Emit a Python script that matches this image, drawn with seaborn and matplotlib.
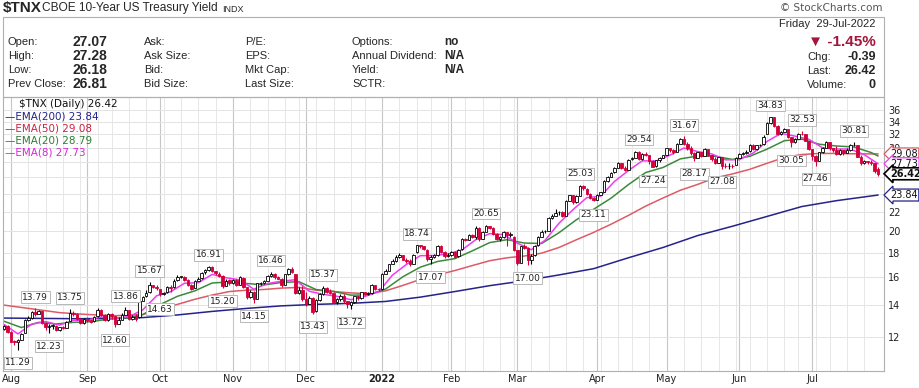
import numpy as np
import pandas as pd
import seaborn as sns
import matplotlib.pyplot as plt
from matplotlib.patches import Rectangle
from matplotlib.ticker import FixedLocator, FixedFormatter, NullLocator

# trading calendar 29-Jul-2021 .. 29-Jul-2022
holidays = ['2021-09-06', '2021-11-25', '2021-12-24', '2022-01-17', '2022-02-21',
            '2022-04-15', '2022-05-30', '2022-06-20', '2022-07-04']
dates = pd.bdate_range('2021-07-29', '2022-07-29', freq='C', holidays=holidays)

# daily OHLC of $TNX
opens = [12.50, 12.66, 12.29, 11.74, 11.72, 11.85, 12.25, 13.00, 13.18, 13.55,
         13.40, 13.60, 12.85, 12.60, 12.66, 12.65, 12.44, 12.60, 12.55, 12.95,
         13.50, 13.40, 13.10, 12.85, 13.06, 13.00, 12.95, 13.25, 13.70, 13.36,
         13.00, 13.40, 13.25, 12.80, 13.05, 13.35, 13.65, 13.10, 13.25, 13.20,
         14.30, 14.60, 14.90, 15.40, 15.30, 15.10, 14.75, 14.90, 15.30, 15.25,
         15.78, 16.05, 16.05, 15.80, 15.45, 15.20, 15.75, 15.95, 16.40, 16.60,
         16.85, 16.50, 16.30, 16.15, 15.36, 15.80, 15.55, 15.80, 15.45, 15.95,
         15.25, 14.55, 14.95, 14.45, 15.55, 15.55, 15.75, 16.10, 16.30, 16.00,
         15.92, 15.45, 16.25, 16.70, 16.30, 14.85, 15.05, 14.45, 14.10, 14.50,
         13.60, 14.35, 14.75, 15.20, 14.92, 14.85, 14.22, 14.40, 14.60, 14.25,
         14.00, 14.20, 14.60, 14.50, 14.90, 14.80, 14.85, 15.40, 15.12, 15.10,
         16.30, 16.55, 17.10, 17.30, 17.70, 17.80, 17.45, 17.35, 17.10, 18.10,
         18.70, 18.60, 18.30, 17.50, 17.70, 17.80, 18.60, 18.10, 17.75, 17.85,
         18.10, 17.75, 18.35, 19.25, 19.20, 19.65, 19.50, 20.35, 19.30, 19.95,
         20.50, 20.35, 19.75, 19.30, 19.45, 19.90, 19.65, 19.50, 18.25, 17.20,
         18.60, 18.45, 17.40, 17.80, 18.70, 19.50, 20.00, 20.05, 21.35, 21.55,
         21.95, 21.95, 21.55, 23.20, 23.80, 23.00, 23.75, 24.90, 24.60, 24.00,
         23.50, 23.30, 23.90, 24.25, 25.50, 26.00, 26.60, 27.20, 27.85, 27.20,
         26.95, 28.40, 28.55, 29.40, 28.40, 29.10, 28.90, 28.10, 27.40, 28.20,
         28.55, 28.95, 29.90, 29.65, 29.35, 30.55, 31.25, 30.50, 29.90, 29.15,
         28.50, 29.30, 28.85, 29.80, 28.90, 28.40, 27.90, 28.60, 27.50, 27.45,
         27.50, 27.60, 28.50, 29.10, 29.20, 29.45, 30.40, 29.80, 30.30, 30.45,
         32.00, 33.70, 34.70, 33.30, 32.10, 32.40, 32.80, 31.50, 30.80, 31.30,
         32.10, 32.00, 30.95, 29.75, 28.80, 28.10, 29.30, 30.00, 30.80, 29.90,
         29.60, 29.10, 29.60, 29.25, 29.60, 30.30, 30.35, 28.70, 27.80, 28.10,
         28.00, 27.80, 27.07]
highs = [12.72, 12.70, 12.36, 11.84, 11.86, 12.22, 13.06, 13.26, 13.60, 13.79,
         13.70, 13.62, 12.90, 12.75, 12.80, 12.70, 12.62, 12.68, 12.95, 13.75,
         13.60, 13.50, 13.15, 13.15, 13.20, 13.05, 13.30, 13.78, 13.72, 13.40,
         13.50, 13.50, 13.30, 13.20, 13.45, 13.86, 13.70, 13.35, 13.40, 14.35,
         14.65, 15.05, 15.67, 15.45, 15.40, 15.15, 14.95, 15.35, 15.40, 15.85,
         16.20, 16.15, 16.10, 15.85, 15.50, 15.80, 16.00, 16.45, 16.70, 16.91,
         16.88, 16.55, 16.40, 16.18, 15.90, 15.88, 15.90, 15.85, 16.10, 16.00,
         15.30, 15.05, 15.00, 15.60, 15.65, 15.80, 16.20, 16.46, 16.35, 16.10,
         15.95, 16.30, 16.75, 16.80, 16.30, 15.30, 15.35, 14.90, 14.60, 14.55,
         14.40, 14.85, 15.37, 15.25, 15.10, 14.90, 14.50, 14.80, 14.80, 14.30,
         14.30, 14.65, 14.70, 14.95, 14.95, 14.90, 15.50, 15.45, 15.20, 16.35,
         16.70, 17.10, 17.50, 17.80, 18.05, 17.85, 17.60, 17.50, 17.90, 18.74,
         18.72, 18.65, 18.35, 17.80, 17.90, 18.75, 18.70, 18.20, 18.05, 18.20,
         18.15, 18.40, 19.35, 19.35, 19.70, 19.70, 20.50, 20.45, 20.00, 20.65,
         20.55, 20.40, 19.80, 19.60, 20.00, 19.95, 19.90, 19.55, 18.30, 18.65,
         18.85, 18.50, 17.90, 18.75, 19.60, 20.10, 20.15, 21.45, 21.75, 22.30,
         22.10, 22.05, 23.30, 23.90, 23.85, 23.80, 25.03, 25.00, 24.70, 24.10,
         23.60, 24.00, 24.25, 25.60, 26.10, 26.70, 27.25, 27.95, 27.90, 27.40,
         28.35, 28.70, 29.50, 29.54, 29.20, 29.30, 28.95, 28.20, 28.30, 28.60,
         29.00, 30.00, 30.00, 29.85, 30.60, 31.40, 31.67, 30.80, 30.20, 29.30,
         29.40, 29.40, 29.90, 29.85, 28.95, 28.60, 28.70, 28.65, 27.80, 27.90,
         27.65, 28.60, 29.20, 29.30, 29.60, 30.50, 30.50, 30.40, 30.50, 31.80,
         33.90, 34.83, 34.75, 33.50, 32.50, 32.90, 32.85, 31.55, 31.40, 32.20,
         32.53, 32.10, 31.00, 29.80, 28.90, 29.40, 30.10, 31.00, 30.85, 30.00,
         30.20, 29.80, 29.70, 30.00, 30.50, 30.81, 30.40, 28.90, 28.30, 28.15,
         28.30, 27.90, 27.28]
lows = [12.42, 12.22, 11.70, 11.52, 11.29, 11.80, 12.22, 12.96, 13.12, 13.30,
        13.38, 12.78, 12.40, 12.23, 12.50, 12.35, 12.38, 12.45, 12.52, 12.95,
        13.30, 13.00, 12.78, 12.80, 12.92, 12.82, 12.90, 13.22, 13.30, 12.95,
        12.98, 13.10, 12.60, 12.75, 13.00, 13.33, 13.05, 13.05, 12.95, 13.18,
        14.25, 14.58, 14.88, 15.18, 15.05, 14.63, 14.70, 14.88, 14.95, 15.22,
        15.75, 15.95, 15.70, 15.35, 15.05, 15.18, 15.70, 15.90, 16.30, 16.55,
        16.40, 16.20, 16.05, 15.20, 15.34, 15.40, 15.50, 15.35, 15.40, 15.20,
        14.40, 14.50, 14.15, 14.42, 15.45, 15.50, 15.72, 16.05, 15.90, 15.85,
        15.30, 15.42, 16.20, 16.35, 14.75, 14.80, 14.30, 13.95, 14.05, 13.43,
        13.55, 14.30, 14.72, 14.85, 14.75, 14.15, 14.10, 14.25, 14.15, 13.80,
        13.72, 14.15, 14.35, 14.45, 14.70, 14.70, 14.80, 15.05, 14.98, 15.08,
        16.25, 16.50, 17.05, 17.25, 17.55, 17.40, 17.20, 16.95, 17.05, 18.05,
        18.45, 18.30, 17.30, 17.07, 17.55, 17.75, 18.00, 17.60, 17.70, 17.75,
        17.60, 17.70, 18.30, 19.10, 19.15, 19.35, 19.30, 19.10, 19.25, 19.90,
        20.20, 19.65, 19.20, 19.05, 19.40, 18.60, 19.50, 18.20, 17.02, 17.18,
        18.35, 17.00, 17.10, 17.75, 18.65, 19.45, 19.80, 20.00, 21.20, 21.50,
        21.60, 21.40, 21.50, 23.15, 22.85, 22.95, 23.70, 24.40, 23.80, 23.40,
        23.11, 23.25, 23.85, 24.20, 25.40, 25.95, 26.55, 27.15, 27.00, 26.80,
        26.90, 28.30, 28.50, 28.30, 28.30, 28.80, 27.70, 27.24, 27.35, 28.00,
        28.45, 28.90, 29.40, 29.10, 29.30, 30.50, 30.40, 29.70, 29.00, 28.17,
        28.45, 28.70, 28.80, 28.80, 28.10, 27.70, 27.85, 27.08, 27.20, 27.10,
        27.20, 27.55, 28.45, 28.90, 29.10, 29.40, 29.60, 29.70, 30.20, 30.40,
        31.95, 33.60, 33.10, 31.80, 31.90, 32.30, 31.40, 30.05, 30.70, 31.25,
        31.80, 30.90, 29.60, 28.20, 27.46, 28.05, 29.25, 29.90, 29.70, 29.40,
        28.90, 29.00, 29.00, 29.20, 29.55, 30.20, 28.60, 27.60, 27.70, 27.70,
        27.60, 26.50, 26.18]
closes = [12.66, 12.29, 11.74, 11.72, 11.82, 12.18, 13.00, 13.18, 13.55, 13.40,
          13.62, 12.85, 12.60, 12.66, 12.70, 12.44, 12.58, 12.55, 12.90, 13.50,
          13.40, 13.12, 12.84, 13.06, 13.00, 12.90, 13.22, 13.70, 13.36, 13.00,
          13.42, 13.25, 12.80, 13.05, 13.32, 13.70, 13.10, 13.20, 13.06, 14.28,
          14.55, 14.85, 15.40, 15.30, 15.18, 14.75, 14.85, 15.30, 15.22, 15.75,
          16.05, 16.08, 15.80, 15.45, 15.15, 15.72, 15.92, 16.38, 16.60, 16.85,
          16.52, 16.32, 16.15, 15.36, 15.76, 15.55, 15.80, 15.45, 16.00, 15.25,
          14.55, 14.95, 14.40, 15.55, 15.55, 15.70, 16.10, 16.30, 16.00, 15.92,
          15.40, 16.25, 16.68, 16.42, 14.85, 15.05, 14.45, 14.10, 14.50, 13.55,
          14.32, 14.75, 15.20, 14.92, 14.85, 14.22, 14.40, 14.60, 14.25, 14.05,
          14.20, 14.60, 14.50, 14.90, 14.80, 14.82, 15.40, 15.12, 15.10, 16.30,
          16.55, 17.05, 17.30, 17.70, 17.80, 17.45, 17.35, 17.05, 17.85, 18.70,
          18.60, 18.35, 17.50, 17.70, 17.80, 18.65, 18.10, 17.75, 17.85, 18.10,
          17.70, 18.30, 19.25, 19.20, 19.65, 19.45, 20.30, 19.25, 19.90, 20.50,
          20.35, 19.75, 19.30, 19.45, 19.95, 19.65, 19.70, 18.30, 17.20, 18.60,
          18.45, 17.45, 17.75, 18.65, 19.50, 19.95, 20.00, 21.35, 21.50, 21.90,
          21.95, 21.50, 23.20, 23.80, 23.00, 23.70, 24.90, 24.65, 24.00, 23.50,
          23.25, 23.90, 24.20, 25.50, 26.00, 26.55, 27.15, 27.85, 27.20, 26.95,
          28.30, 28.55, 29.40, 28.40, 29.10, 29.00, 28.10, 27.35, 28.20, 28.50,
          28.90, 29.90, 29.65, 29.30, 30.50, 31.25, 30.50, 29.90, 29.15, 28.45,
          29.30, 28.80, 29.80, 28.90, 28.40, 27.85, 28.60, 27.50, 27.45, 27.50,
          27.40, 28.50, 29.10, 29.20, 29.40, 30.40, 29.75, 30.30, 30.40, 31.60,
          33.70, 34.70, 33.30, 32.00, 32.30, 32.80, 31.50, 30.80, 31.30, 32.10,
          32.00, 30.95, 29.75, 28.85, 28.10, 29.30, 30.00, 30.85, 29.90, 29.60,
          29.10, 29.60, 29.20, 29.60, 30.30, 30.35, 28.70, 27.80, 28.10, 28.00,
          27.80, 26.81, 26.42]

# moving averages (bar index, value)
ema8_idx = list(range(0, 253, 4))
ema8 = [12.75, 12.18, 12.77, 12.93, 12.71, 13.01, 13.01, 13.22, 13.14, 13.24,
        13.68, 14.65, 14.93, 15.56, 15.60, 16.24, 15.98, 15.82, 15.12, 15.54,
        15.72, 15.83, 14.97, 14.75, 14.61, 14.37, 14.60, 14.93, 16.19, 17.04,
        17.78, 17.79, 17.93, 18.28, 19.21, 19.78, 19.69, 18.89, 18.30, 19.16,
        20.80, 22.20, 23.54, 23.71, 25.46, 26.83, 28.13, 28.10, 28.91, 29.92,
        29.42, 29.09, 28.26, 28.29, 29.22, 30.90, 32.12, 31.70, 31.22, 29.95,
        29.79, 29.77, 28.98, 27.73]
ema20_idx = list(range(0, 251, 5)) + [252]
ema20 = [12.95, 12.56, 12.88, 12.78, 12.88, 12.92, 13.08, 13.15, 13.37, 14.04,
         14.61, 15.00, 15.58, 15.66, 15.54, 15.44, 15.62, 15.68, 15.09, 14.96,
         14.69, 14.71, 15.13, 16.06, 16.82, 17.29, 17.53, 18.20, 18.94, 19.21,
         18.90, 18.86, 19.87, 21.15, 22.26, 23.48, 25.07, 26.58, 27.24, 28.40,
         28.79, 28.75, 28.32, 28.75, 29.77, 31.01, 31.24, 30.48, 30.22, 30.08,
         29.28, 28.79]
ema50_idx = [0, 8, 16, 24, 32, 40, 45, 50, 55, 60, 65, 70, 75, 80, 85, 90, 95, 100,
             105, 110, 115, 120, 125, 130, 135, 140, 145, 150, 155, 160, 165, 170,
             175, 180, 185, 190, 195, 200, 205, 210, 215, 220, 225, 230, 235, 240,
             245, 252]
ema50 = [14.00, 13.75, 13.50, 13.38, 13.30, 13.38, 13.75, 14.05, 14.40, 14.70,
         14.95, 15.05, 15.10, 15.20, 15.25, 15.05, 14.95, 14.85, 14.80, 15.00,
         15.40, 15.85, 16.20, 16.55, 16.95, 17.35, 17.60, 17.75, 18.00, 18.50,
         19.20, 19.90, 20.70, 21.60, 22.60, 23.50, 24.40, 25.10, 25.90, 26.40,
         27.00, 27.80, 28.60, 29.00, 29.15, 29.15, 29.10, 29.08]
ema200_idx = [0, 10, 20, 30, 40, 50, 60, 70, 80, 90, 100, 110, 120, 130, 140, 150,
              160, 170, 180, 190, 200, 210, 220, 230, 240, 252]
ema200 = [13.15, 13.13, 13.11, 13.12, 13.18, 13.35, 13.58, 13.78, 13.95, 14.05,
          14.12, 14.25, 14.55, 14.95, 15.38, 15.75, 16.20, 16.70, 17.60, 18.50,
          19.60, 20.50, 21.50, 22.55, 23.20, 23.84]

# labelled swing highs / lows
swing_idx = [4, 9, 13, 19, 32, 35, 42, 45, 59, 63, 72, 77, 89, 92, 100, 119, 123,
             139, 151, 166, 170, 183, 187, 196, 199, 207, 221, 227, 230, 234, 245]
swing_val = [11.29, 13.79, 12.23, 13.75, 12.60, 13.86, 15.67, 14.63, 16.91, 15.20,
             14.15, 16.46, 13.43, 15.37, 13.72, 18.74, 17.07, 20.65, 17.00, 25.03,
             23.11, 29.54, 27.24, 31.67, 28.17, 27.08, 34.83, 30.05, 32.53, 27.46,
             30.81]
swing_hi = [False, True, False, True, False, True, True, False, True, False,
            False, True, False, True, False, True, False, True, False, True,
            False, True, False, True, False, False, True, False, True, False, True]

y_ticks = [12, 14, 16, 18, 20, 22, 24, 26, 28, 30, 32, 34, 36]
# 24, 26 and 28 sit under the value tags
y_tick_labels = ['12', '14', '16', '18', '20', '22', '', '', '', '30', '32', '34', '36']

RED = '#d4003c'
C200, C50, C20, C8 = '#23238a', '#dd5a66', '#3b8a3b', '#f03cf0'

sns.set_style("white")
plt.rcParams['font.family'] = ['DejaVu Sans']

W, H = 920, 388
fig = plt.figure(figsize=(W / 100, H / 100), dpi=100)


def fx(px):
    return px / W


def fy(py):
    return 1 - py / H


ax = fig.add_axes([fx(3), fy(371), fx(884) - fx(3), fy(97) - fy(371)])

o = np.array(opens)
h = np.array(highs)
l = np.array(lows)
c = np.array(closes)
assert len(dates) == len(c)
x = np.arange(len(c))
prev = np.r_[o[0], c[:-1]]
edge = np.where(c >= prev, 'black', RED)
face = np.where(c > o, 'white', edge)

# moving averages
for xs, ys, col in [(ema200_idx, ema200, C200), (ema50_idx, ema50, C50),
                    (ema20_idx, ema20, C20), (ema8_idx, ema8, C8)]:
    sns.lineplot(x=xs, y=ys, color=col, lw=1.1, ax=ax, zorder=2)

# candles
ax.vlines(x, l, h, colors=edge, lw=0.8, zorder=3)
ax.bar(x, np.maximum(np.abs(c - o), 0.03), bottom=np.minimum(o, c), width=0.72,
       color=face, edgecolor=edge, linewidth=0.6, zorder=4)

ax.set_yscale('log')
ax.set_xlim(-0.3, 253.7)
ax.set_ylim(10.18, 38.3)
ax.yaxis.set_major_locator(FixedLocator(y_ticks))
ax.yaxis.set_major_formatter(FixedFormatter(y_tick_labels))
ax.yaxis.set_minor_locator(NullLocator())
ax.yaxis.tick_right()

month_pos = [i for i in range(1, len(dates)) if dates[i].month != dates[i - 1].month]
week_pos = [i for i in range(1, len(dates)) if dates[i].weekday() < dates[i - 1].weekday()]
month_lab = ['2022' if dates[i].month == 1 else dates[i].strftime('%b') for i in month_pos]
ax.set_xticks(month_pos)
ax.set_xticklabels(month_lab)
ax.set_xticks(week_pos, minor=True)
for t in ax.get_xticklabels():
    if t.get_text() == '2022':
        t.set_fontweight('bold')

ax.set_axisbelow(True)
ax.grid(True, which='major', axis='x', color='#c6c6c6', lw=0.8)
ax.grid(True, which='minor', axis='x', color='#e3e3e3', lw=0.6)
ax.grid(True, which='major', axis='y', color='#e3e3e3', lw=0.7)
ax.tick_params(axis='both', which='both', length=0, labelsize=7, colors='#222222')
ax.tick_params(axis='y', pad=3)
ax.tick_params(axis='x', pad=2)
for s in ax.spines.values():
    s.set_color('#b0b0b0')
    s.set_linewidth(0.8)
ax.set_xlabel('')
ax.set_ylabel('')

# swing labels
for i, v, hi in zip(swing_idx, swing_val, swing_hi):
    ax.annotate(f'{v:.2f}', xy=(i, v), xytext=(0, 8 if hi else -9.5),
                textcoords='offset points', ha='center', va='center', fontsize=6.5,
                color='#222222', zorder=6,
                bbox=dict(boxstyle='square,pad=0.15', fc='white', ec='#b8b8b8', lw=0.7))

# last value tags on the right
for v, col, bold in [(29.08, C50, False), (27.73, C8, False), (26.42, 'black', True),
                     (23.84, C200, False)]:
    ax.annotate(f'{v:.2f}', xy=(1, v), xycoords=('axes fraction', 'data'),
                xytext=(4.5, 0), textcoords='offset points', ha='left', va='center',
                fontsize=7, fontweight='bold' if bold else 'normal', color='#111111',
                annotation_clip=False, zorder=7,
                bbox=dict(boxstyle='larrow,pad=0.1', fc='white', ec=col,
                          lw=1.2 if bold else 0.9))

# legend inside the chart
fig.text(fx(19), fy(104), r'\$TNX (Daily) 26.42', fontsize=7.5, va='center', color='#111111')
for k, (txt, col) in enumerate([('EMA(200) 23.84', C200), ('EMA(50) 29.08', '#cc2244'),
                                ('EMA(20) 28.79', '#2e7d32'), ('EMA(8) 27.73', '#dd22dd')]):
    fig.text(fx(5), fy(116.5 + 12 * k), '\u2014' + txt, fontsize=7.5, va='center', color=col)

# header
HF = ['Liberation Sans', 'DejaVu Sans']
fig.add_artist(Rectangle((fx(3), fy(97)), fx(884) - fx(3), fy(17) - fy(97),
                         transform=fig.transFigure, fill=False, ec='#b0b0b0', lw=0.8))
fig.text(fx(3), fy(8), r'\$TNX', fontsize=11, fontweight='bold', family=HF, va='center')
fig.text(fx(42), fy(8.5), 'CBOE 10-Year US Treasury Yield', fontsize=8.6, family=HF, va='center')
fig.text(fx(222), fy(9), 'INDX', fontsize=6.5, family=HF, va='center')
fig.text(fx(883), fy(8), '\u00a9 StockCharts.com', fontsize=7.5, color='#555555',
         ha='right', va='center')

rows_y = [42, 56, 70, 84]
col1 = ['Open:', 'High:', 'Low:', 'Prev Close:']
col1_v = ['27.07', '27.28', '26.18', '26.81']
col2 = ['Ask:', 'Ask Size:', 'Bid:', 'Bid Size:']
col3 = ['P/E:', 'EPS:', 'Mkt Cap:', 'Last Size:']
col4 = ['Options:', 'Annual Dividend:', 'Yield:', 'SCTR:']
col4_v = ['no', 'N/A', 'N/A', '']
for k, yy in enumerate(rows_y):
    fig.text(fx(8), fy(yy), col1[k], fontsize=8, family=HF, va='center')
    fig.text(fx(73), fy(yy), col1_v[k], fontsize=10, fontweight='bold', family=HF, va='center')
    fig.text(fx(144), fy(yy), col2[k], fontsize=8, family=HF, va='center')
    fig.text(fx(245), fy(yy), col3[k], fontsize=8, family=HF, va='center')
    fig.text(fx(352), fy(yy), col4[k], fontsize=8, family=HF, va='center')
    fig.text(fx(444), fy(yy), col4_v[k], fontsize=8.5, fontweight='bold', family=HF, va='center')

fig.text(fx(876), fy(24), 'Friday  29-Jul-2022', fontsize=8, family=HF, ha='right', va='center')
fig.text(fx(876), fy(42), '\u25bc -1.45%', fontsize=11, fontweight='bold', family=HF,
         ha='right', va='center', color='#a3153a')
for k, (lab, val) in enumerate([('Chg:', '-0.39'), ('Last:', '26.42'), ('Volume:', '0')]):
    fig.text(fx(807), fy(57 + 14 * k), lab, fontsize=8, family=HF, va='center')
    fig.text(fx(876), fy(57 + 14 * k), val, fontsize=9, fontweight='bold', family=HF,
             ha='right', va='center')

fig.savefig('out.png', dpi=100)
